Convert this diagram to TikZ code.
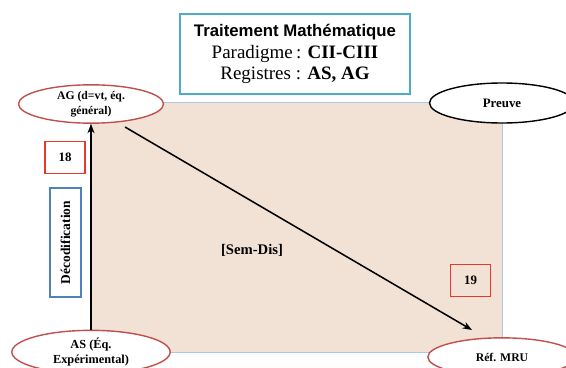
\documentclass[tikz,border=0pt]{standalone}
\usepackage{fontspec}
\setmainfont{Liberation Serif}
\newfontfamily\titlefont{Liberation Sans}
\usetikzlibrary{shapes.geometric,arrows.meta}
\definecolor{peach}{HTML}{F2E1D5}
\definecolor{frameblue}{HTML}{A9C8E8}
\definecolor{titleblue}{HTML}{4BACC6}
\definecolor{ovalred}{HTML}{C0504D}
\definecolor{boxred}{HTML}{E8382B}
\definecolor{boxblue}{HTML}{4F81BD}
\tikzset{
  oval/.style={ellipse, draw=ovalred, line width=1.2pt, fill=white, align=center,
    font=\fontsize{10.5}{13}\selectfont\bfseries, inner sep=0pt},
  numbox/.style={draw=boxred, line width=1.2pt, minimum width=1.2cm, minimum height=0.95cm,
    font=\fontsize{11}{12}\selectfont\bfseries},
  flow/.style={-{Stealth[length=8pt,width=6pt]}, line width=1.3pt}
}

\begin{document}
\begin{tikzpicture}[x=0.03cm, y=-0.03cm]
  \useasboundingbox (0,0) rectangle (566,367);
  % zone du traitement
  \draw[frameblue, fill=peach, line width=0.8pt] (90,102) rectangle (502,352);

  \node[draw=titleblue, line width=1.2pt, fill=white, align=center,
        font=\fontsize{16.2}{18.5}\selectfont,
        minimum width=6.9cm, minimum height=2.4cm] (titre) at (295,54)
    {{\titlefont\bfseries\fontsize{14.3}{17}\selectfont Traitement Mathématique}\\
     Paradigme\,: \textbf{CII-CIII}\\
     Registres : \textbf{AS, AG}};

  \node[oval, font=\fontsize{10}{12.5}\selectfont\bfseries, minimum width=4.35cm, minimum height=1.15cm] (ag) at (91,104)
    {AG (d=vt, éq.\\général)};
  \node[oval, draw=black, font=\fontsize{11}{13}\selectfont\bfseries, minimum width=4.35cm, minimum height=1.2cm] (preuve) at (502,103)
    {Preuve};
  \node[oval, minimum width=4.75cm, minimum height=1.3cm] (as) at (91,352)
    {AS (Éq.\\Expérimental)};
  \node[oval, font=\fontsize{10}{12}\selectfont\bfseries, minimum width=4.45cm, minimum height=1.15cm] (mru) at (502,357)
    {Réf. MRU};

  \node[numbox] (n18) at (65,157.5) {18};
  \node[numbox] (n19) at (470.5,280.5) {19};
  \node[draw=boxblue, line width=1.2pt, rotate=90, minimum width=3.27cm, minimum height=0.93cm,
        font=\fontsize{11.5}{12}\selectfont\bfseries] (deco) at (65.5,242.5) {Décodification};

  \node[font=\fontsize{12.5}{14}\selectfont\bfseries] (semdis) at (252,250) {[Sem-Dis]};

  \coordinate (d1) at (125,127);
  \coordinate (d2) at (472,330);
  \draw[flow] (as.north) -- (ag.south);
  \draw[flow] (d1) -- (d2);
\end{tikzpicture}
\end{document}
